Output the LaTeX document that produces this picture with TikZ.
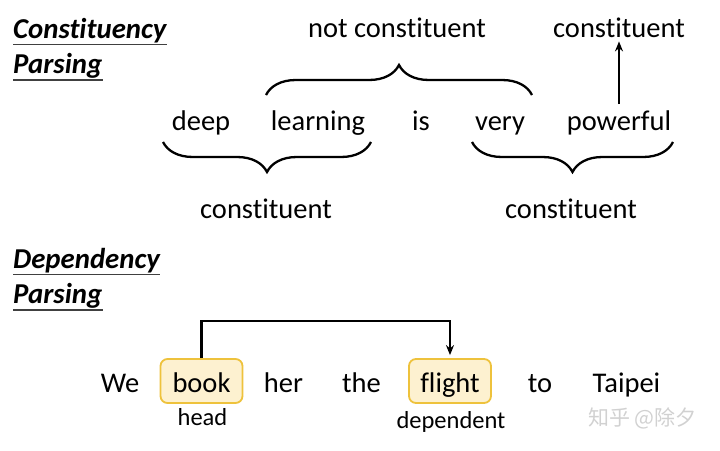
\documentclass[tikz,border=0pt]{standalone}
\usepackage{fontspec}
\setmainfont{Carlito}[RawFeature={-liga;-clig;-calt;-dlig}]
\newfontfamily\cjk{Noto Sans CJK SC}
\usetikzlibrary{arrows.meta,decorations.pathreplacing}
\definecolor{boxline}{RGB}{238,194,60}
\definecolor{boxfill}{RGB}{253,241,208}

\begin{document}
\begin{tikzpicture}[x=1pt,y=-1pt]
    \tikzset{word/.style={inner sep=0pt,anchor=base,font=\fontsize{28.5}{34}\selectfont}}
    \tikzset{title/.style={inner sep=0pt,anchor=base west,font=\fontsize{28.8}{34}\selectfont\bfseries\itshape}}
    \tikzset{uline/.style={line width=1.3pt,black!75}}
    \tikzset{note/.style={inner sep=0pt,anchor=base,font=\fontsize{24.5}{29}\selectfont}}
    \tikzset{hbox/.style={word,draw=boxline,fill=boxfill,line width=1.8pt,rounded corners=7pt,
      minimum width=82pt,text height=22pt,text depth=0pt,inner ysep=11pt}}
    \tikzset{curly/.style={decorate,decoration={brace,amplitude=30pt},line width=2.3pt}}
    \tikzset{arc/.style={line width=2.6pt,-{Stealth[length=10pt,width=8pt]}}}
    \useasboundingbox (0,0) rectangle (720,450);
    % constituency
    \node[title] (ctitle) at (13,38) {Constituency};
    \node[title] (cparse) at (13,73) {Parsing};
    \draw[uline] ([yshift=-2pt]ctitle.south west) -- ([yshift=-2pt]ctitle.south east);
    \draw[uline] ([yshift=-2pt]cparse.south west) -- ([yshift=-2pt]cparse.south east);
    \node[word] (deep) at (201,130) {deep};
    \node[word] (learning) at (318,130) {learning};
    \node[word] (is) at (421,130) {is};
    \node[word] (very) at (500,130) {very};
    \node[word] (powerful) at (619,130) {powerful};
    \coordinate (nl) at (266,95);
    \coordinate (nr) at (532,95);
    \coordinate (al) at (163,142);
    \coordinate (ar) at (371,142);
    \coordinate (bl) at (472,142);
    \coordinate (br) at (673,142);
    \draw[curly] (nl) -- (nr);
    \draw[curly] (ar) -- (al);
    \draw[curly] (br) -- (bl);
    \node[word] (notc) at (397,37) {not constituent};
    \node[word] (topc) at (619,37) {constituent};
    \node[word] (leftc) at (266,218) {constituent};
    \node[word] (rightc) at (571,218) {constituent};
    \draw[arc] ([yshift=6pt]powerful.north) -- ([yshift=-4pt]topc.south);
    % dependency
    \node[title] (dtitle) at (13,268) {Dependency};
    \node[title] (dparse) at (13,303) {Parsing};
    \draw[uline] ([yshift=-2pt]dtitle.south west) -- ([yshift=-2pt]dtitle.south east);
    \draw[uline] ([yshift=-2pt]dparse.south west) -- ([yshift=-2pt]dparse.south east);
    \node[word] (we) at (120,392) {We};
    \node[hbox] (book) at (201.5,392) {book};
    \node[word] (her) at (283.5,392) {her};
    \node[word] (the) at (361.5,392) {the};
    \node[hbox] (flight) at (450,392) {flight};
    \node[word] (to) at (540,392) {to};
    \node[word] (taipei) at (626.5,392) {Taipei};
    \node[note] (head) at (202.5,425) {head};
    \node[note] (dep) at (451,428) {dependent};
    \draw[arc,rounded corners=0pt] (book.north) -- ++(0,-37) -| ([yshift=3pt]flight.north);
    \node[inner sep=0pt,anchor=west,text=black!18,font=\cjk\fontsize{21}{25}\selectfont] (mark) at (588,418) {知乎 @除夕};
\end{tikzpicture}
\end{document}
